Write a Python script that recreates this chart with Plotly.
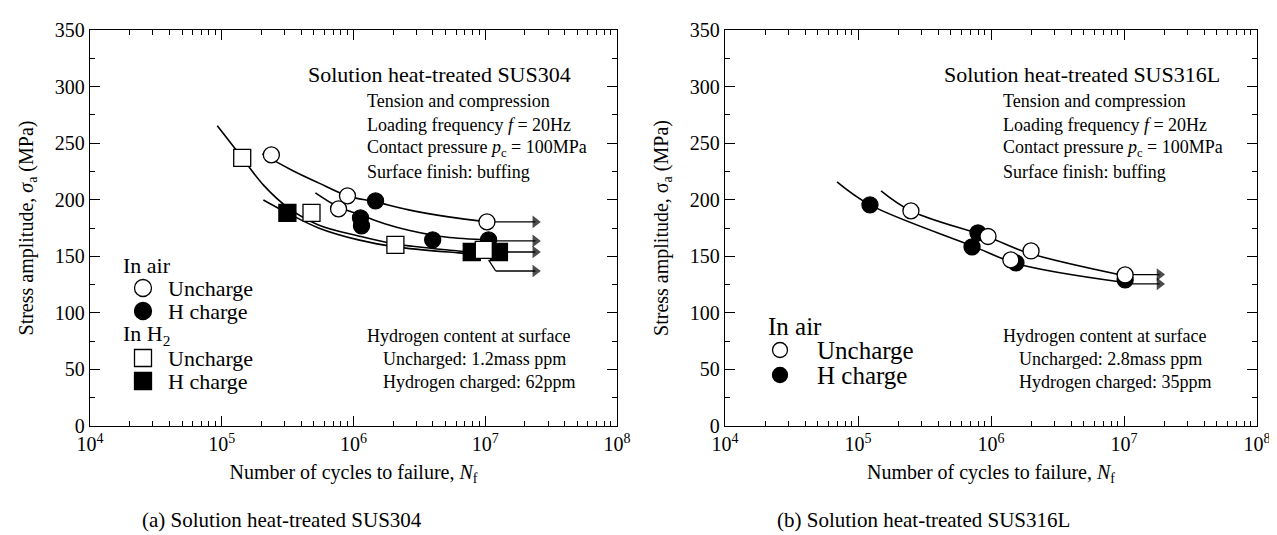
import plotly.graph_objects as go

W, H = 1277, 535
FONT = "Liberation Serif"

# ---------------- data: (a) SUS304 ----------------
a_air_unc_N = [2.38e5, 7.7e5, 9.0e5, 1.03e7]
a_air_unc_S = [239.6, 191.9, 203.4, 180.4]
a_air_hc_N = [1.13e6, 1.15e6, 1.47e6, 3.99e6, 1.06e7]
a_air_hc_S = [183.9, 176.8, 198.9, 164.5, 164.5]
a_h2_unc_N = [1.43e5, 4.8e5, 2.08e6, 9.75e6]
a_h2_unc_S = [237.0, 188.3, 160.0, 155.6]
a_h2_hc_N = [3.15e5, 7.9e6, 1.27e7]
a_h2_hc_S = [188.3, 153.8, 153.8]

# S-N curves (a)
a_curve_air_unc_N = [2.03e5, 3.38e5, 5.42e5, 9.0e5, 1.47e6, 2.62e6, 5.27e6, 1.03e7]
a_curve_air_unc_S = [240.5, 226.3, 214.9, 203.4, 198.1, 191.0, 184.8, 180.4]
a_curve_air_hc_N = [5.14e5, 7.7e5, 1.13e6, 1.75e6, 2.62e6, 5.0e6, 1.06e7]
a_curve_air_hc_S = [206.0, 193.5, 186.6, 178.5, 173.0, 167.0, 164.5]
a_curve_h2_unc_N = [9.25e4, 1.43e5, 2.1e5, 3.2e5, 5.42e5, 1.09e6, 2.08e6, 6.28e6, 8.9e6]
a_curve_h2_unc_S = [265.3, 237.0, 212.2, 192.8, 177.7, 168.0, 160.9, 154.7, 153.0]
a_curve_h2_hc_N = [2.07e5, 3.15e5, 5.42e5, 1.09e6, 2.08e6, 6.28e6, 7.9e6]
a_curve_h2_hc_S = [199.8, 188.3, 175.1, 164.5, 158.3, 153.0, 152.1]

# run-out arrows (a)
a_run_N0 = [1.03e7, 1.06e7, 1.27e7]
a_run_S = [180.4, 163.6, 153.8]
a_run_N1 = 2.4e7
a_run4_N = [1.06e7, 1.2e7, 2.4e7]
a_run4_S = [146.8, 137.0, 137.0]

# ---------------- data: (b) SUS316L ----------------
b_air_hc_N = [1.23e5, 7.98e5, 7.2e5, 1.54e6, 1.02e7]
b_air_hc_S = [195.4, 170.6, 158.3, 144.1, 129.1]
b_air_unc_N = [2.5e5, 9.5e5, 1.41e6, 2.0e6, 1.02e7]
b_air_unc_S = [190.1, 167.5, 146.8, 154.7, 133.5]

b_curve_unc_N = [1.49e5, 2.5e5, 9.5e5, 1.9e6, 9.5e6]
b_curve_unc_S = [207.8, 190.1, 167.1, 153.0, 133.5]
b_curve_hc_N = [6.95e4, 1.23e5, 7.2e5, 1.6e6, 9.5e6]
b_curve_hc_S = [215.7, 195.4, 159.2, 143.2, 127.3]

b_run_N0 = [1.02e7, 1.02e7]
b_run_S = [133.8, 125.6]
b_run_N1 = 1.85e7

x_ticks = [1e4, 1e5, 1e6, 1e7, 1e8]
x_ticktext = ["10<sup>4</sup>", "10<sup>5</sup>", "10<sup>6</sup>", "10<sup>7</sup>", "10<sup>8</sup>"]
y_ticks = [0, 50, 100, 150, 200, 250, 300, 350]

# ---------------- helpers ----------------
def px(x):
    return x / W

def py(y):
    return 1 - y / H

fig = go.Figure()

def curve(N, S, xa, ya):
    fig.add_trace(go.Scatter(x=N, y=S, mode="lines", xaxis=xa, yaxis=ya,
                             line=dict(color="black", width=1.6, shape="spline", smoothing=1.0),
                             showlegend=False, hoverinfo="skip"))

def runout(N0, S0, N1, S1, xa, ya):
    fig.add_trace(go.Scatter(x=[N0, N1], y=[S0, S1], mode="lines+markers", xaxis=xa, yaxis=ya,
                             line=dict(color="black", width=1.3),
                             marker=dict(symbol="triangle-right", size=[0, 11],
                                         color="black", line=dict(width=0)),
                             showlegend=False, hoverinfo="skip"))

def pts(N, S, xa, ya, symbol, fill, size):
    fig.add_trace(go.Scatter(x=N, y=S, mode="markers", xaxis=xa, yaxis=ya,
                             marker=dict(symbol=symbol, color=fill, size=size,
                                         line=dict(color="black", width=1.3)),
                             showlegend=False, hoverinfo="skip"))

# (a)
curve(a_curve_air_unc_N, a_curve_air_unc_S, "x", "y")
curve(a_curve_air_hc_N, a_curve_air_hc_S, "x", "y")
curve(a_curve_h2_unc_N, a_curve_h2_unc_S, "x", "y")
curve(a_curve_h2_hc_N, a_curve_h2_hc_S, "x", "y")
for n0, s in zip(a_run_N0, a_run_S):
    runout(n0, s, a_run_N1, s, "x", "y")
fig.add_trace(go.Scatter(x=a_run4_N[:2], y=a_run4_S[:2], mode="lines", xaxis="x", yaxis="y",
                         line=dict(color="black", width=1.3), showlegend=False, hoverinfo="skip"))
runout(a_run4_N[1], a_run4_S[1], a_run4_N[2], a_run4_S[2], "x", "y")
pts(a_air_unc_N, a_air_unc_S, "x", "y", "circle", "white", 16)
pts(a_air_hc_N, a_air_hc_S, "x", "y", "circle", "black", 16)
pts(a_h2_hc_N, a_h2_hc_S, "x", "y", "square", "black", 17)
pts(a_h2_unc_N, a_h2_unc_S, "x", "y", "square", "white", 17)

# (b)
curve(b_curve_unc_N, b_curve_unc_S, "x2", "y2")
curve(b_curve_hc_N, b_curve_hc_S, "x2", "y2")
for n0, s in zip(b_run_N0, b_run_S):
    runout(n0, s, b_run_N1, s, "x2", "y2")
pts(b_air_hc_N, b_air_hc_S, "x2", "y2", "circle", "black", 16)
pts(b_air_unc_N, b_air_unc_S, "x2", "y2", "circle", "white", 16)

axis_common = dict(
    type="log", range=[4, 8], tickvals=x_ticks, ticktext=x_ticktext, automargin=False,
    ticks="inside", ticklen=10, tickwidth=1, tickcolor="black",
    showline=True, linecolor="black", linewidth=1.4, mirror="ticks",
    showgrid=False, zeroline=False,
    minor=dict(ticks="inside", ticklen=5, tickwidth=1, tickcolor="black", dtick="D1", showgrid=False),
    tickfont=dict(family=FONT, size=20, color="black"),
    title=dict(text="Number of cycles to failure, <i>N</i><sub>f</sub>",
               font=dict(family=FONT, size=20, color="black"), standoff=10),
)
yaxis_common = dict(
    range=[0, 350], tickvals=y_ticks, automargin=False,
    ticks="inside", ticklen=10, tickwidth=1, tickcolor="black",
    showline=True, linecolor="black", linewidth=1.4, mirror="ticks",
    showgrid=False, zeroline=False,
    minor=dict(ticks="inside", ticklen=5, tickwidth=1, tickcolor="black", dtick=25, showgrid=False),
    tickfont=dict(family=FONT, size=20, color="black"),
)

ydom = [py(418), py(22)]
fig.update_layout(
    width=W, height=H, margin=dict(l=0, r=0, t=0, b=0, autoexpand=False),
    paper_bgcolor="white", plot_bgcolor="white", showlegend=False,
    font=dict(family=FONT, color="black"),
    xaxis=dict(domain=[px(82), px(609)], anchor="y", **axis_common),
    yaxis=dict(domain=ydom, anchor="x",
               title=dict(text="Stress amplitude, <i>σ</i><sub>a</sub> (MPa)",
                          font=dict(family=FONT, size=20, color="black"), standoff=15),
               **yaxis_common),
    xaxis2=dict(domain=[px(717), px(1249)], anchor="y2", **axis_common),
    yaxis2=dict(domain=ydom, anchor="x2",
                title=dict(text="Stress amplitude, σ<sub>a</sub> (MPa)",
                           font=dict(family=FONT, size=20, color="black"), standoff=15),
                **yaxis_common),
)

def text(x, y, s, size, anchor="left"):
    fig.add_annotation(x=px(x), y=py(y), xref="paper", yref="paper", text=s, showarrow=False,
                       xanchor=anchor, yanchor="middle",
                       font=dict(family=FONT, size=size, color="black"))

def key_circle(cx, cy, r, fill):
    fig.add_shape(type="circle", xref="paper", yref="paper",
                  x0=px(cx - r), x1=px(cx + r), y0=py(cy + r), y1=py(cy - r),
                  fillcolor=fill, line=dict(color="black", width=1.3))

def key_square(cx, cy, r, fill):
    fig.add_shape(type="rect", xref="paper", yref="paper",
                  x0=px(cx - r), x1=px(cx + r), y0=py(cy + r), y1=py(cy - r),
                  fillcolor=fill, line=dict(color="black", width=1.3))

# info texts
for dx, title, unc, hc in [(0, "Solution heat-treated SUS304", "1.2mass ppm", "62ppm"),
                           (636, "Solution heat-treated SUS316L", "2.8mass ppm", "35ppm")]:
    text(298 + dx, 67, title, 22)
    text(357 + dx, 93, "Tension and compression", 18)
    text(357 + dx, 117, "Loading frequency <i>f</i> = 20Hz", 18)
    text(357 + dx, 140, "Contact pressure <i>p</i><sub>c</sub> = 100MPa", 18)
    text(357 + dx, 164, "Surface finish: buffing", 18)
    text(357 + dx, 328, "Hydrogen content at surface", 18)
    text(373 + dx, 351, "Uncharged: " + unc, 18)
    text(373 + dx, 374, "Hydrogen charged: " + hc, 18)

# legend (a)
text(113, 257, "In air", 22)
key_circle(135, 280, 8.5, "white")
text(158, 280, "Uncharge", 22)
key_circle(135, 303, 8.5, "black")
text(158, 303, "H charge", 22)
text(113, 327, "In H<sub>2</sub>", 22)
key_square(135, 350, 8.5, "white")
text(158, 350, "Uncharge", 22)
key_square(135, 373, 8.5, "black")
text(158, 373, "H charge", 22)

# legend (b)
text(758, 318, "In air", 25)
key_circle(772, 342, 7.5, "white")
text(807, 342, "Uncharge", 25)
key_circle(772, 367, 7.5, "black")
text(807, 367, "H charge", 25)

text(274, 512, "(a) Solution heat-treated SUS304", 21, "center")
text(915, 512, "(b) Solution heat-treated SUS316L", 21, "center")

fig.write_html("out.html")
